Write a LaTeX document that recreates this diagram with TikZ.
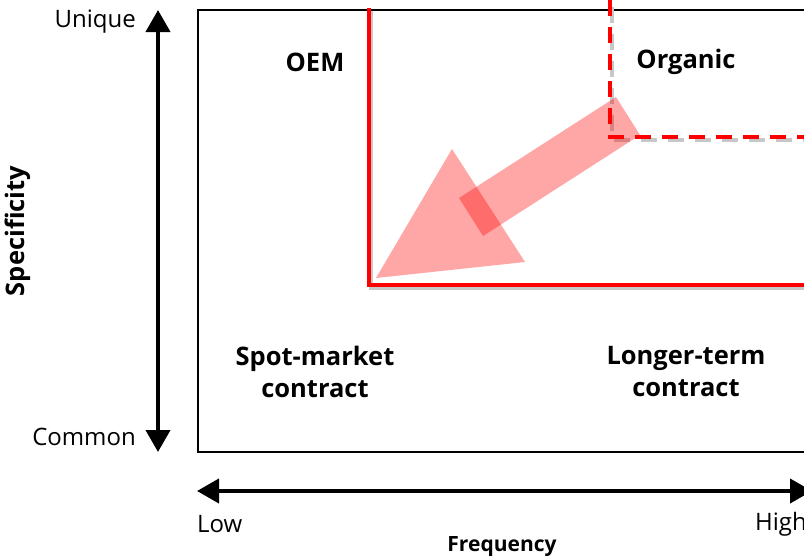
\documentclass[tikz,border=0pt]{standalone}
\usepackage{fontspec}
\setmainfont{Open Sans}
\usetikzlibrary{arrows.meta}
\begin{document}
\begin{tikzpicture}[x=1pt,y=-1pt,
  axisboth/.style={line width=4pt,{Triangle[width=24pt,length=22pt]}-{Triangle[width=24pt,length=22pt]}},
  redline/.style={draw=red,line width=4.5pt},
  shadowline/.style={draw=black!22,line width=4.5pt},
  reddash/.style={draw=red,line width=4.5pt,dash pattern=on 16pt off 11pt},
  shadowdash/.style={draw=black!22,line width=4.5pt,dash pattern=on 16pt off 11pt},
  pink/.style={fill=red,fill opacity=0.35,draw=none},
  lab/.style={font=\fontsize{24}{28}\selectfont,inner sep=0pt},
  blab/.style={font=\fontsize{25.5}{32}\selectfont\bfseries,inner sep=0pt,align=center},
]
\useasboundingbox (0,0) rectangle (804,560);
\fill[white] (0,0) rectangle (804,560);
% frame
\draw[line width=1.2pt] (198,10) rectangle (830,452);
% shadows
\draw[shadowline] (371,11) -- (371,288) -- (830,288);
\draw[shadowdash] (612,7) -- (612,140) -- (830,140);
% red region lines
\coordinate (r1) at (369,8);
\coordinate (r2) at (369,285);
\coordinate (r3) at (830,285);
\draw[redline] (r1) -- (r2) -- (r3);
\coordinate (d1) at (610,0);
\coordinate (d2) at (610,137);
\coordinate (d3) at (830,137);
\draw[reddash] (d1) -- (d2) -- (d3);
% big translucent arrow
\fill[pink] (616,97) -- (640,135) -- (483,236) -- (459,198) -- cycle;
\fill[pink] (452,149) -- (525,262) -- (376,278) -- cycle;
% axes
\coordinate (vtop) at (158,10);
\coordinate (vbot) at (158,452);
\draw[axisboth] (vbot) -- (vtop);
\coordinate (hl) at (197,491);
\coordinate (hr) at (812,491);
\draw[axisboth] (hl) -- (hr);
% labels
\node[lab,anchor=east] (uniq) at (136,22) {Unique};
\node[lab,anchor=east] (comm) at (136,437) {Common};
\node[blab,rotate=90] (spec) at (18,231) {Specificity};
\node[lab,anchor=west] (low) at (197,524) {Low};
\node[lab,anchor=west] (high) at (755,524) {High};
\node[blab,font=\fontsize{21}{26}\selectfont\bfseries] (freq) at (502,547) {Frequency};
\node[blab] (oem) at (315,62) {OEM};
\node[blab] (org) at (686,62) {Organic};
\node[blab] (spot) at (315,372) {Spot-market\\contract};
\node[blab] (long) at (686,372) {Longer-term\\contract};
\end{tikzpicture}
\end{document}
